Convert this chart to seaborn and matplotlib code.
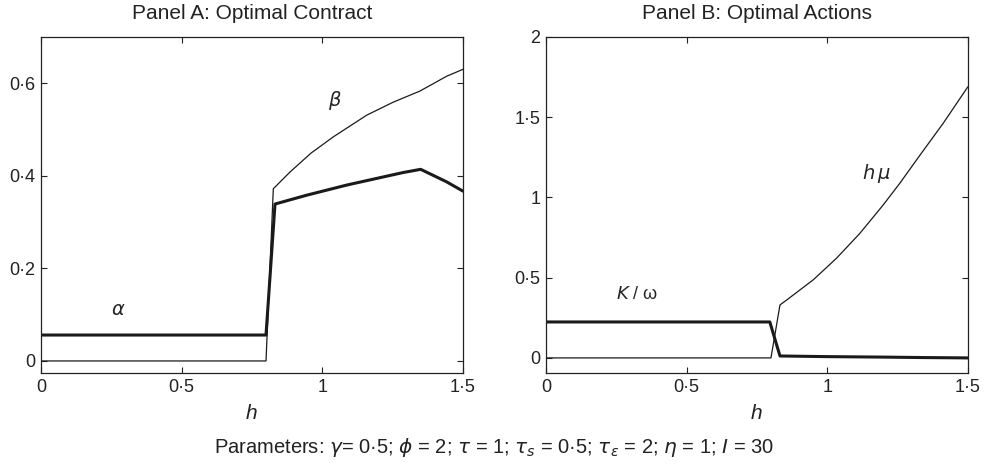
import pandas as pd
import matplotlib
matplotlib.use("Agg")
import matplotlib.pyplot as plt
from matplotlib.ticker import FuncFormatter
import seaborn as sns

# Panel A: optimal contract
h_alpha = [0.0, 0.80, 0.832, 0.944, 1.087, 1.287, 1.350, 1.442, 1.500]
alpha = [0.056, 0.056, 0.339, 0.358, 0.380, 0.407, 0.414, 0.387, 0.367]
h_beta = [0.0, 0.80, 0.826, 0.885, 0.96, 1.039, 1.158, 1.252, 1.347, 1.442, 1.500]
beta = [0.0, 0.0, 0.372, 0.408, 0.449, 0.484, 0.531, 0.559, 0.583, 0.615, 0.630]

# Panel B: optimal actions
h_k = [0.0, 0.796, 0.832, 1.0, 1.2, 1.35, 1.5]
k_omega = [0.224, 0.224, 0.012, 0.008, 0.005, 0.002, 0.0]
h_mu = [0.0, 0.80, 0.832, 0.856, 0.950, 1.033, 1.116, 1.199, 1.258, 1.330, 1.412, 1.500]
h_times_mu = [0.0, 0.0, 0.330, 0.361, 0.486, 0.621, 0.776, 0.953, 1.088, 1.264, 1.461, 1.689]

sns.set_theme(style="ticks")
plt.rcParams['font.family'] = ['Liberation Sans', 'DejaVu Sans']
plt.rcParams['mathtext.fontset'] = 'dejavusans'

fig = plt.figure(figsize=(9.88, 4.7), dpi=100)
ax1 = fig.add_axes([0.0415, 0.2064, 0.427, 0.715])
ax2 = fig.add_axes([0.5526, 0.2064, 0.427, 0.715])

col = "#1a1a1a"
sns.lineplot(x=h_beta, y=beta, ax=ax1, color=col, linewidth=0.9)
sns.lineplot(x=h_alpha, y=alpha, ax=ax1, color=col, linewidth=2.2)
sns.lineplot(x=h_mu, y=h_times_mu, ax=ax2, color=col, linewidth=0.9)
sns.lineplot(x=h_k, y=k_omega, ax=ax2, color=col, linewidth=2.2)

dot_fmt = FuncFormatter(lambda v, p: ("%g" % round(v, 3)).replace(".", "\u00b7"))

ax1.set_xlim(0, 1.5)
ax1.set_ylim(-0.026, 0.7)
ax1.set_yticks([0, 0.2, 0.4, 0.6])
ax2.set_xlim(0, 1.5)
ax2.set_ylim(-0.094, 2.0)
ax2.set_yticks([0, 0.5, 1, 1.5, 2])

for ax, title in [(ax1, "Panel A: Optimal Contract"), (ax2, "Panel B: Optimal Actions")]:
    ax.set_xticks([0, 0.5, 1, 1.5])
    ax.xaxis.set_major_formatter(dot_fmt)
    ax.yaxis.set_major_formatter(dot_fmt)
    ax.tick_params(direction="in", length=4, width=0.8, top=True, right=True,
                   labelsize=13, colors="#222222", pad=4)
    for s in ax.spines.values():
        s.set_color("#222222")
        s.set_linewidth(0.9)
    ax.set_title(title, fontsize=15, pad=13, color="#222222")
    ax.set_xlabel("h", fontsize=15, style="italic", labelpad=6, color="#222222")

ax1.text(0.274, 0.108, r"$\alpha$", fontsize=14, ha="center", va="center")
ax1.text(1.045, 0.563, r"$\beta$", fontsize=14, ha="center", va="center")
ax2.text(0.323, 0.392, r"$K$ / ω", fontsize=13, ha="center", va="center")
ax2.text(1.175, 1.15, r"$h\,\mu$", fontsize=14, ha="center", va="center")

fig.text(0.5, 0.048,
         "Parameters: $\\gamma$= 0\u00b75; $\\phi$ = 2; $\\tau$ = 1; $\\tau_s$ = 0\u00b75; "
         "$\\tau_\\varepsilon$ = 2; $\\eta$ = 1; $I$ = 30",
         ha="center", va="center", fontsize=14.5, color="#222222")

fig.savefig("out.png", dpi=100)
